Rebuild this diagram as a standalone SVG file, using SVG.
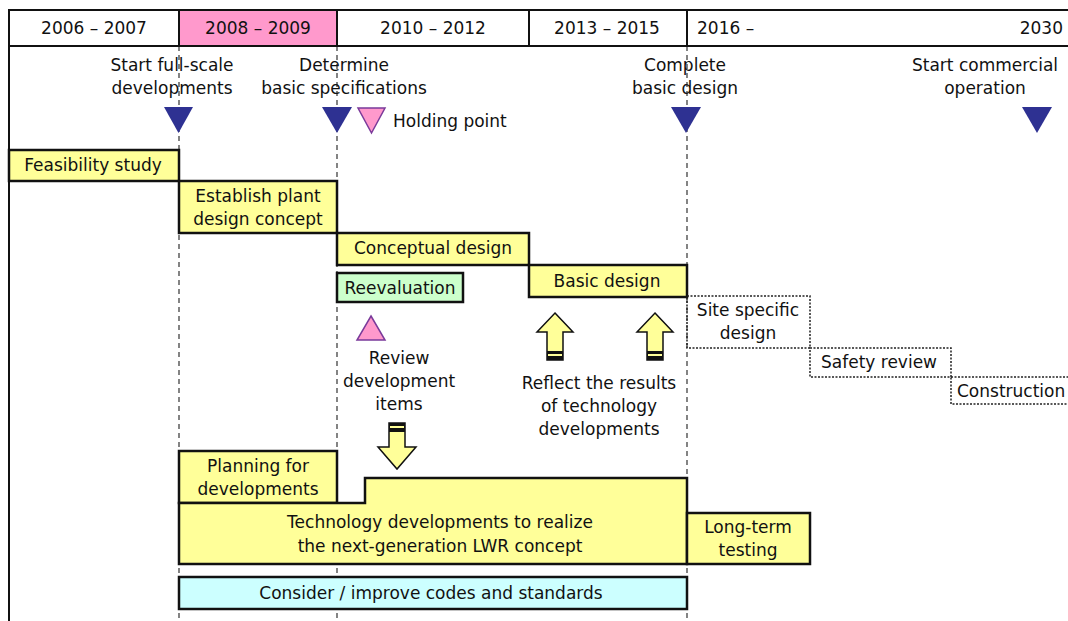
<svg xmlns="http://www.w3.org/2000/svg" width="1068" height="621" viewBox="0 0 1068 621">
<style>
text{font-family:"DejaVu Sans","Liberation Sans",sans-serif;font-size:17px;fill:#111;text-anchor:middle;dominant-baseline:central}
.hdr{fill:#fff;stroke:#111;stroke-width:2}
.task{fill:#ffff99;stroke:#111;stroke-width:2.5}
.green{fill:#ccffcc;stroke:#111;stroke-width:2.5}
.cyan{fill:#ccffff;stroke:#111;stroke-width:2.5}
.dot{fill:none;stroke:#222;stroke-width:1.5;stroke-dasharray:2 1.5}
.guide{stroke:#333;stroke-width:1.2;stroke-dasharray:5 4;fill:none}
.ms{fill:#2e3192}
.hold{fill:#ff99cc;stroke:#7a3a9a;stroke-width:1.5}
.arrow{fill:#ffff99;stroke:#111;stroke-width:1.5}
</style>
<rect width="1068" height="621" fill="#fff"/>
<g id="guides">
<line class="guide" x1="179" y1="46" x2="179" y2="621"/>
<line class="guide" x1="337" y1="46" x2="337" y2="621"/>
<line class="guide" x1="687" y1="46" x2="687" y2="621"/>
<line x1="9" y1="46" x2="9" y2="621" stroke="#111" stroke-width="2"/>
</g>
<g id="header">
<rect class="hdr" x="9" y="10" width="1070" height="36"/>
<rect x="179" y="10" width="158" height="36" fill="#ff99cc" stroke="#111" stroke-width="2"/>
<line x1="529" y1="10" x2="529" y2="46" stroke="#111" stroke-width="2"/>
<line x1="687" y1="10" x2="687" y2="46" stroke="#111" stroke-width="2"/>
<text x="94" y="28">2006 – 2007</text>
<text x="258" y="28">2008 – 2009</text>
<text x="433" y="28">2010 – 2012</text>
<text x="607" y="28">2013 – 2015</text>
<text x="697" y="28" style="text-anchor:start">2016 –</text>
<text x="1063" y="28" style="text-anchor:end">2030</text>
</g>
<g id="milestone-start">
<text x="172" y="65">Start full-scale</text>
<text x="172" y="88">developments</text>
<polygon class="ms" points="164,107 193,107 178.5,133"/>
</g>
<g id="milestone-determine">
<text x="344" y="65">Determine</text>
<text x="344" y="88">basic specifications</text>
<polygon class="ms" points="322,107 352,107 337,133"/>
</g>
<g id="holding-point">
<polygon class="hold" points="358,108 385,108 371.5,133"/>
<text x="393" y="121" style="text-anchor:start">Holding point</text>
</g>
<g id="milestone-complete">
<text x="685" y="65">Complete</text>
<text x="685" y="88">basic design</text>
<polygon class="ms" points="671,107 701,107 686,133"/>
</g>
<g id="milestone-commercial">
<text x="985" y="65">Start commercial</text>
<text x="985" y="88">operation</text>
<polygon class="ms" points="1022,107 1052,107 1037,133"/>
</g>
<g id="feasibility">
<rect class="task" x="9" y="150" width="170" height="31"/>
<text x="93" y="165">Feasibility study</text>
</g>
<g id="establish">
<rect class="task" x="179" y="181" width="158" height="52"/>
<text x="258" y="196">Establish plant</text>
<text x="258" y="219">design concept</text>
</g>
<g id="conceptual">
<rect class="task" x="337" y="233" width="192" height="32"/>
<text x="433" y="248">Conceptual design</text>
</g>
<g id="reevaluation">
<rect class="green" x="337" y="273" width="126" height="29"/>
<text x="400" y="288">Reevaluation</text>
</g>
<g id="basic">
<rect class="task" x="529" y="265" width="158" height="32"/>
<text x="607" y="281">Basic design</text>
</g>
<g id="site">
<rect class="dot" x="687" y="296" width="123" height="52"/>
<text x="748" y="310">Site specific</text>
<text x="748" y="333">design</text>
</g>
<g id="safety">
<rect class="dot" x="810" y="348" width="141" height="29"/>
<text x="879" y="362">Safety review</text>
</g>
<g id="construction">
<rect class="dot" x="951" y="377" width="130" height="27"/>
<text x="957" y="391" style="text-anchor:start">Construction</text>
</g>
<g id="review">
<polygon class="hold" points="371,316 385,340 357,340"/>
<text x="399" y="358">Review</text>
<text x="399" y="381">development</text>
<text x="399" y="404">items</text>
</g>
<g id="reflect">
<text x="599" y="383">Reflect the results</text>
<text x="599" y="406">of technology</text>
<text x="599" y="429">developments</text>
</g>
<g id="planning">
<rect class="task" x="179" y="451" width="158" height="52"/>
<text x="258" y="466">Planning for</text>
<text x="258" y="489">developments</text>
</g>
<g id="technology">
<polygon class="task" points="179,503 365,503 365,478 687,478 687,564 179,564"/>
<text x="440" y="522">Technology developments to realize</text>
<text x="440" y="546">the next-generation LWR concept</text>
</g>
<g id="longterm">
<rect class="task" x="687" y="513" width="123" height="51"/>
<text x="748" y="527">Long-term</text>
<text x="748" y="550">testing</text>
</g>
<g id="codes">
<rect class="cyan" x="179" y="577" width="508" height="32"/>
<text x="431" y="593">Consider / improve codes and standards</text>
</g>
<g id="connectors">
<g id="up1">
<polygon class="arrow" points="555,313 573,332 563,332 563,360 547,360 547,332 537,332"/>
<rect x="547" y="351" width="16" height="9" fill="#111"/>
<rect x="548" y="354" width="14" height="2" fill="#ffff99"/>
</g>
<g id="up2">
<polygon class="arrow" points="655,313 673,332 663,332 663,360 647,360 647,332 637,332"/>
<rect x="647" y="351" width="16" height="9" fill="#111"/>
<rect x="648" y="354" width="14" height="2" fill="#ffff99"/>
</g>
<g id="down1">
<polygon class="arrow" points="389,423 405,423 405,447 416,447 397,469 378,447 389,447"/>
<rect x="389" y="423" width="16" height="9" fill="#111"/>
<rect x="390" y="426" width="14" height="2" fill="#ffff99"/>
</g>
</g>
</svg>
